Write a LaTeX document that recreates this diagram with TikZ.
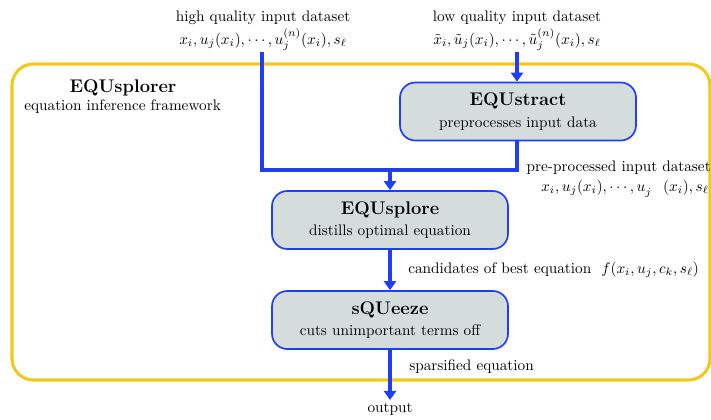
\documentclass[tikz,border=0pt]{standalone}
\usetikzlibrary{arrows.meta}
\definecolor{flowblue}{RGB}{30,62,250}
\definecolor{boxfill}{RGB}{212,220,220}
\definecolor{framegold}{RGB}{242,200,30}
\def\unitpx{0.655}
\begin{document}
\begin{tikzpicture}[x=\unitpx pt,y=-\unitpx pt,
  stage/.style={draw=flowblue,fill=boxfill,line width=1.1pt,rounded corners=10pt,
    minimum width=236*\unitpx pt,minimum height=58*\unitpx pt,align=center,inner sep=0pt},
  flow/.style={draw=flowblue,line width=2pt},
  flowarrow/.style={flow,-{Triangle[width=8pt,length=6pt]}},
  lbl/.style={inner sep=0pt,align=center}]
\useasboundingbox (0,0) rectangle (711,419);

% outer framework boundary
\draw[framegold,line width=2pt,rounded corners=14pt] (12,64) rectangle (710,380);
\node[lbl,anchor=base] (fwname) at (123,92) {\large\bfseries EQUsplorer};
\node[lbl,anchor=base west] (fwdesc) at (24,110) {equation inference framework};

% input datasets
\node[lbl,anchor=base] (hqtitle) at (263,21) {high quality input dataset};
\node[lbl,anchor=base] (hqdata) at (263,44) {$x_i, u_j(x_i), \cdots, u_j^{(n)}(x_i), s_\ell$};
\node[lbl,anchor=base] (lqtitle) at (517,21) {low quality input dataset};
\node[lbl,anchor=base] (lqdata) at (517,44) {$\tilde{x}_i, \tilde{u}_j(x_i), \cdots, \tilde{u}_j^{(n)}(x_i), s_\ell$};

% processing stages
\node[stage] (extract) at (518,111.5) {{\large\bfseries EQUstract}\\[2pt] preprocesses input data};
\node[stage] (explore) at (390,220) {{\large\bfseries EQUsplore}\\[2pt] distills optimal equation};
\node[stage] (squeeze) at (390,320) {{\large\bfseries sQUeeze}\\[2pt] cuts unimportant terms off};

\coordinate (hqtop) at (262,52);
\coordinate (lqtop) at (517,52);
\coordinate (join) at (390,170);
\node[lbl,anchor=base] (out) at (390,412) {output};

% connectors
\draw[flowarrow] (lqtop) -- (extract.north -| lqtop);
\draw[flow] (hqtop) |- (join) -| (extract.south -| lqtop);
\draw[flowarrow] (join) -- (explore.north);
\draw[flowarrow] (explore.south) -- (squeeze.north);
\draw[flowarrow] (squeeze.south) -- (390,400);

% connector labels
\node[lbl,anchor=base east] (pptitle) at (711,171) {pre-processed input dataset};
\node[lbl,anchor=base east] (ppdata) at (709,191) {$x_i, u_j(x_i), \cdots, u_j^{\phantom{(n)}}(x_i), s_\ell$};
\node[lbl,anchor=base west] (cand) at (408,273) {candidates of best equation\ \ $f(x_i, u_j, c_k, s_\ell)$};
\node[lbl,anchor=base west] (sparse) at (409,370) {sparsified equation};
\end{tikzpicture}
\end{document}
